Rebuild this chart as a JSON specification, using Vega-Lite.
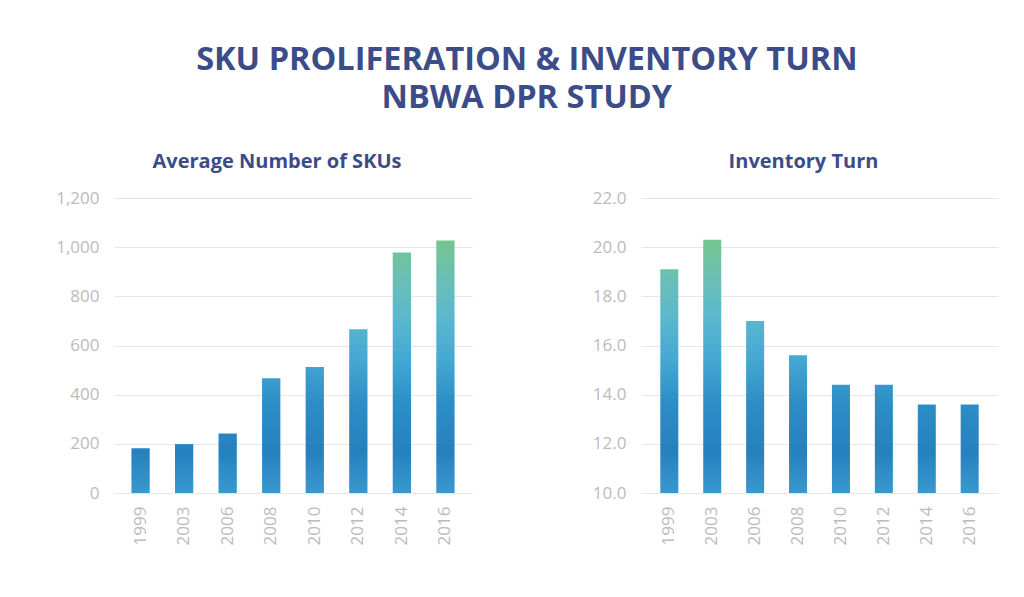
{
  "$schema": "https://vega.github.io/schema/vega-lite/v6.json",
  "background": "white",
  "padding": {"left": 55, "top": 43, "right": 20, "bottom": 5},
  "title": {
    "text": ["SKU PROLIFERATION & INVENTORY TURN", "NBWA DPR STUDY"],
    "font": "Open Sans",
    "fontSize": 32.5,
    "fontWeight": 700,
    "color": "#3c4c88",
    "lineHeight": 38,
    "anchor": "middle",
    "frame": "bounds",
    "offset": 38
  },
  "datasets": {
    "skus": [
      {"year": "1999", "skus": 182},
      {"year": "2003", "skus": 199},
      {"year": "2006", "skus": 242},
      {"year": "2008", "skus": 467},
      {"year": "2010", "skus": 513},
      {"year": "2012", "skus": 666},
      {"year": "2014", "skus": 978},
      {"year": "2016", "skus": 1027}
    ],
    "turn": [
      {"year": "1999", "turn": 19.1},
      {"year": "2003", "turn": 20.3},
      {"year": "2006", "turn": 17.0},
      {"year": "2008", "turn": 15.6},
      {"year": "2010", "turn": 14.4},
      {"year": "2012", "turn": 14.4},
      {"year": "2014", "turn": 13.6},
      {"year": "2016", "turn": 13.6}
    ]
  },
  "config": {
    "view": {"stroke": null},
    "axis": {
      "labelFont": "Open Sans",
      "labelFontSize": 17,
      "labelColor": "#bbbbbb",
      "ticks": false,
      "domain": false,
      "gridColor": "#e6e6e6",
      "gridWidth": 1,
      "title": null
    },
    "axisX": {"labelAngle": -90, "labelPadding": 13, "grid": false},
    "axisY": {"labelPadding": 15}
  },
  "spacing": 120,
  "hconcat": [
    {
      "data": {"name": "skus"},
      "width": 358,
      "height": 295,
      "title": {"text": "Average Number of SKUs", "font": "Open Sans", "fontSize": 20, "fontWeight": 700, "color": "#3c4c88", "frame": "group", "anchor": "middle", "dx": -16, "offset": 17},
      "mark": {
        "type": "bar",
        "fill": {"expr": "{gradient: 'linear', x1: 0, y1: 1, x2: 0, y2: 1 - 1200 / datum.skus, stops: [{offset: 0, color: '#3a98cf'}, {offset: 0.14, color: '#2581be'}, {offset: 0.3, color: '#2c8dc6'}, {offset: 0.46, color: '#45a9d4'}, {offset: 0.6, color: '#5cb8cc'}, {offset: 0.72, color: '#69bfb6'}, {offset: 0.86, color: '#75c58f'}, {offset: 1, color: '#78c78a'}]}"}
      },
      "encoding": {
        "x": {
          "field": "year",
          "type": "ordinal",
          "scale": {"paddingInner": 0.58, "paddingOuter": 0.4}
        },
        "y": {
          "field": "skus",
          "type": "quantitative",
          "scale": {"domain": [0, 1200]},
          "axis": {"values": [0, 200, 400, 600, 800, 1000, 1200], "format": ",d"}
        }
      }
    },
    {
      "data": {"name": "turn"},
      "width": 357,
      "height": 295,
      "title": {"text": "Inventory Turn", "font": "Open Sans", "fontSize": 20, "fontWeight": 700, "color": "#3c4c88", "frame": "group", "anchor": "middle", "dx": -16, "offset": 17},
      "mark": {
        "type": "bar",
        "fill": {"expr": "{gradient: 'linear', x1: 0, y1: 1, x2: 0, y2: 1 - 12 / (datum.turn - 10), stops: [{offset: 0, color: '#3a98cf'}, {offset: 0.14, color: '#2581be'}, {offset: 0.3, color: '#2c8dc6'}, {offset: 0.46, color: '#45a9d4'}, {offset: 0.6, color: '#5cb8cc'}, {offset: 0.72, color: '#69bfb6'}, {offset: 0.86, color: '#75c58f'}, {offset: 1, color: '#78c78a'}]}"}
      },
      "encoding": {
        "x": {
          "field": "year",
          "type": "ordinal",
          "scale": {"paddingInner": 0.58, "paddingOuter": 0.45}
        },
        "y": {
          "field": "turn",
          "type": "quantitative",
          "scale": {"domain": [10, 22], "zero": false},
          "axis": {"values": [10, 12, 14, 16, 18, 20, 22], "format": ".1f"}
        },
        "y2": {"datum": 10}
      }
    }
  ]
}
